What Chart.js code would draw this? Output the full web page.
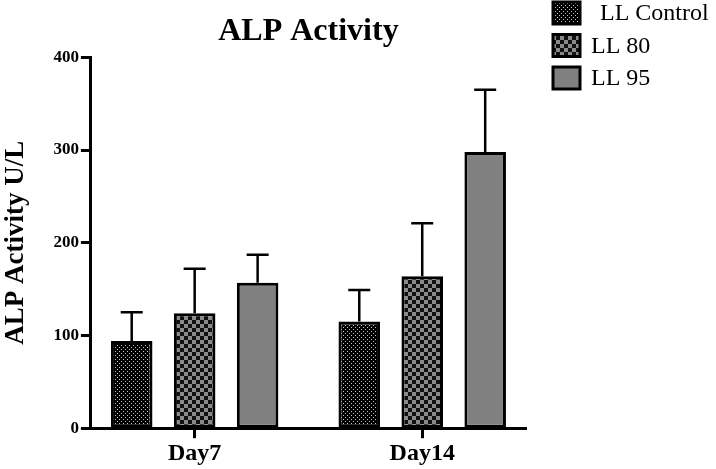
<!DOCTYPE html>
<html lang="en">
<head>
    <meta charset="UTF-8">
    <title>ALP Activity</title>
    <script src="https://cdn.jsdelivr.net/npm/chart.js"></script>
    <style>
        body { margin: 0; background: #fff; }
    </style>
</head>
<body>
    <canvas id="graficoALP" width="716" height="469"></canvas>

    <script>
        // datos
        const categorias = ['Day7', 'Day14'];
        const series = [' LL Control', 'LL 80', 'LL 95'];
        const llControl = [94, 115];
        const ll80 = [124, 164];
        const ll95 = [157, 298];
        const errControl = [31, 34];
        const err80 = [48, 57];
        const err95 = [30, 67];
        const ticksY = [0, 100, 200, 300, 400];

        const serif = "'Liberation Serif', 'Times New Roman', serif";

        // patrones de relleno
        function patronPuntos() {
            const c = document.createElement('canvas');
            c.width = 4; c.height = 4;
            const g = c.getContext('2d');
            g.fillStyle = '#000';
            g.fillRect(0, 0, 4, 4);
            g.fillStyle = '#c8c8c8';
            g.fillRect(1, 1, 1, 1);
            g.fillRect(3, 3, 1, 1);
            return g.createPattern(c, 'repeat');
        }

        function patronCuadros() {
            const c = document.createElement('canvas');
            c.width = 8; c.height = 8;
            const g = c.getContext('2d');
            g.fillStyle = '#8a8a8a';
            g.fillRect(0, 0, 8, 8);
            g.fillStyle = '#111';
            g.fillRect(0, 0, 4, 4);
            g.fillRect(4, 4, 4, 4);
            return g.createPattern(c, 'repeat');
        }

        const valores = [llControl, ll80, ll95];
        const errores = [errControl, err80, err95];
        const rellenos = [patronPuntos(), patronCuadros(), '#808080'];

        // barras de error (solo hacia arriba)
        const barrasError = {
            id: 'barrasError',
            afterDatasetsDraw(chart) {
                const ctx = chart.ctx;
                const y = chart.scales.y;
                ctx.save();
                ctx.strokeStyle = '#000';
                ctx.lineWidth = 2.5;
                chart.data.datasets.forEach((ds, i) => {
                    const meta = chart.getDatasetMeta(i);
                    meta.data.forEach((bar, j) => {
                        const tope = y.getPixelForValue(valores[i][j] + errores[i][j]);
                        ctx.beginPath();
                        ctx.moveTo(bar.x, bar.y);
                        ctx.lineTo(bar.x, tope);
                        ctx.moveTo(bar.x - 11, tope);
                        ctx.lineTo(bar.x + 11, tope);
                        ctx.stroke();
                    });
                });
                ctx.restore();
            }
        };

        // leyenda dibujada a mano arriba a la derecha
        const leyenda = {
            id: 'leyenda',
            afterDraw(chart) {
                const ctx = chart.ctx;
                ctx.save();
                ctx.font = '24px ' + serif;
                ctx.textBaseline = 'middle';
                chart.data.datasets.forEach((ds, i) => {
                    const y0 = 2 + i * 32.5;
                    ctx.fillStyle = ds.backgroundColor;
                    ctx.fillRect(553, y0, 27, 22);
                    ctx.strokeStyle = '#000';
                    ctx.lineWidth = 3;
                    ctx.strokeRect(553, y0, 27, 22);
                    ctx.fillStyle = '#000';
                    ctx.fillText(ds.label, i === 0 ? 594 : 591, y0 + 12);
                });
                ctx.restore();
            }
        };

        const ctx = document.getElementById('graficoALP').getContext('2d');
        new Chart(ctx, {
            type: 'bar',
            data: {
                datasets: series.map((nombre, i) => ({
                    label: nombre,
                    data: valores[i].map((v, j) => ({ x: j, y: v })),
                    backgroundColor: rellenos[i],
                    borderColor: '#000',
                    borderWidth: 3,
                    borderSkipped: false
                }))
            },
            options: {
                responsive: false,
                animation: false,
                categoryPercentage: 0.83,
                barPercentage: 0.66,
                layout: { padding: { right: 190, bottom: 0, left: 0 } },
                plugins: {
                    legend: { display: false },
                    tooltip: { enabled: false },
                    title: {
                        display: true,
                        text: 'ALP Activity',
                        fullSize: false,
                        color: '#000',
                        font: { family: serif, size: 32, weight: 'bold' },
                        padding: { top: 13, bottom: 6 }
                    }
                },
                scales: {
                    x: {
                        type: 'linear',
                        offset: false,
                        min: -0.456,
                        max: 1.456,
                        afterBuildTicks: (scale) => {
                            scale.ticks = categorias.map((c, i) => ({ value: i }));
                        },
                        ticks: {
                            color: '#000',
                            font: { family: serif, size: 24, weight: 'bold' },
                            padding: 1,
                            callback: (v) => categorias[v]
                        },
                        grid: {
                            offset: false,
                            drawOnChartArea: false,
                            tickLength: 10,
                            tickWidth: 3,
                            tickColor: '#000'
                        },
                        border: { color: '#000', width: 3 }
                    },
                    y: {
                        min: 0,
                        max: 400,
                        afterBuildTicks: (scale) => {
                            scale.ticks = ticksY.map(v => ({ value: v }));
                        },
                        ticks: {
                            color: '#000',
                            font: { family: serif, size: 17, weight: 'bold' },
                            padding: 2
                        },
                        grid: {
                            drawOnChartArea: false,
                            tickLength: 10,
                            tickWidth: 3,
                            tickColor: '#000'
                        },
                        border: { color: '#000', width: 3 },
                        title: {
                            display: true,
                            text: 'ALP Activity U/L',
                            color: '#000',
                            font: { family: serif, size: 27, weight: 'bold' },
                            padding: { top: 0, bottom: 19 }
                        }
                    }
                }
            },
            plugins: [barrasError, leyenda]
        });
    </script>
</body>
</html>
